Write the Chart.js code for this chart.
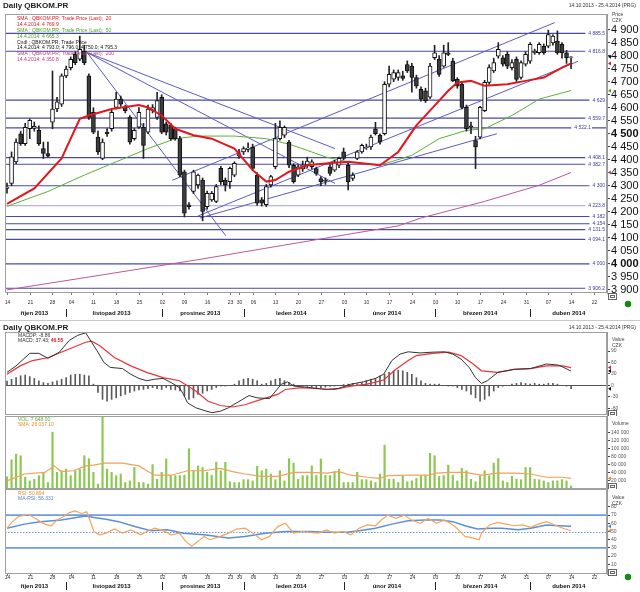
<!DOCTYPE html>
<html>
<head>
<meta charset="utf-8">
<script src="https://cdn.jsdelivr.net/npm/chart.js@4.4.1/dist/chart.umd.min.js"></script>
<style>
  body { margin: 0; background: #fff; }
  #wrap { position: relative; width: 640px; height: 592px; overflow: hidden; background: #fff; }
  canvas { position: absolute; left: 0; }
</style>
</head>
<body>
<div id="wrap">
  <canvas id="priceChart" width="640" height="321" style="top:0"></canvas>
  <canvas id="macdChart" width="640" height="95" style="top:321px"></canvas>
  <canvas id="volChart" width="640" height="73" style="top:416px"></canvas>
  <canvas id="rsiChart" width="640" height="103" style="top:489px"></canvas>
</div>
<script>
// --- Data (x = trading day index, 0 = 14.10.2013) ---

const tickIdx = [0, 5, 10, 14, 19, 24, 29, 34, 39, 44, 49, 51, 54, 59, 64, 69, 74, 79, 84, 89, 94, 99, 104, 109, 114, 119, 124, 129];
const tickText = ['14', '21', '28', '04', '11', '18', '25', '02', '09', '16', '23', '30', '06', '13', '20', '27', '03', '10', '17', '24', '03', '10', '17', '24', '31', '07', '14', '22'];
const monthNames = ['říjen 2013', 'listopad 2013', 'prosinec 2013', 'leden 2014', 'únor 2014', 'březen 2014', 'duben 2014'];
const monthStart = [0, 13, 34, 52, 74, 94, 115, 133];

const open = [4290, 4309, 4392, 4500, 4462, 4519, 4520, 4513, 4443, 4424, 4544, 4595, 4614, 4722, 4754, 4805, 4786, 4817, 4722, 4582,
  4487, 4405, 4506, 4519, 4601, 4633, 4601, 4563, 4481, 4525, 4525, 4506, 4590, 4563, 4640, 4538, 4532, 4519, 4481, 4354,
  4227, 4278, 4303, 4322, 4220, 4246, 4240, 4367, 4322, 4316, 4341, 4415, 4430, 4440, 4449, 4341, 4246, 4227, 4303, 4373,
  4481, 4494, 4468, 4379, 4341, 4365, 4380, 4373, 4366, 4328, 4322, 4373, 4360, 4379, 4430, 4379, 4328, 4405, 4430, 4445,
  4449, 4519, 4494, 4500, 4690, 4710, 4716, 4722, 4766, 4760, 4716, 4671, 4665, 4640, 4792, 4786, 4760, 4811, 4779, 4709,
  4690, 4601, 4530, 4474, 4487, 4589, 4697, 4741, 4798, 4792, 4805, 4754, 4786, 4716, 4767, 4779, 4811, 4811, 4836, 4836,
  4849, 4855, 4843, 4811, 4793];
const high = [4310, 4430, 4480, 4510, 4540, 4557, 4545, 4530, 4468, 4468, 4741, 4640, 4730, 4760, 4795, 4815, 4875, 4840, 4730, 4600,
  4510, 4480, 4520, 4590, 4659, 4645, 4610, 4570, 4520, 4600, 4540, 4610, 4612, 4659, 4650, 4545, 4540, 4525, 4490, 4360,
  4235, 4360, 4345, 4330, 4280, 4278, 4305, 4375, 4330, 4372, 4392, 4440, 4450, 4465, 4460, 4350, 4255, 4305, 4340, 4540,
  4550, 4530, 4475, 4385, 4380, 4395, 4410, 4400, 4372, 4335, 4330, 4380, 4398, 4410, 4445, 4390, 4350, 4435, 4460, 4460,
  4495, 4544, 4500, 4700, 4760, 4745, 4745, 4740, 4780, 4770, 4725, 4680, 4675, 4770, 4840, 4800, 4840, 4850, 4790, 4715,
  4700, 4610, 4545, 4490, 4605, 4705, 4765, 4790, 4850, 4800, 4815, 4785, 4795, 4780, 4815, 4850, 4825, 4850, 4845, 4898,
  4880, 4895, 4850, 4820, 4796];
const low = [4272, 4300, 4385, 4455, 4455, 4481, 4510, 4455, 4405, 4410, 4519, 4585, 4605, 4715, 4745, 4765, 4780, 4765, 4555, 4500,
  4420, 4400, 4490, 4510, 4595, 4605, 4580, 4460, 4475, 4520, 4405, 4500, 4580, 4555, 4500, 4495, 4475, 4475, 4335, 4180,
  4210, 4270, 4290, 4165, 4210, 4240, 4235, 4305, 4280, 4290, 4335, 4405, 4420, 4430, 4360, 4225, 4222, 4220, 4295, 4365,
  4475, 4485, 4370, 4310, 4335, 4355, 4370, 4365, 4340, 4300, 4305, 4340, 4355, 4370, 4400, 4284, 4320, 4400, 4425, 4440,
  4440, 4495, 4460, 4495, 4680, 4700, 4705, 4705, 4735, 4660, 4675, 4625, 4620, 4635, 4785, 4720, 4755, 4800, 4700, 4675,
  4595, 4510, 4500, 4366, 4480, 4585, 4690, 4735, 4790, 4760, 4750, 4745, 4700, 4710, 4760, 4770, 4805, 4805, 4805, 4830,
  4840, 4805, 4790, 4770, 4750];
const close = [4295, 4411, 4468, 4462, 4525, 4551, 4528, 4462, 4424, 4414, 4595, 4623, 4722, 4748, 4786, 4773, 4824, 4773, 4563, 4506,
  4430, 4468, 4500, 4582, 4633, 4614, 4589, 4468, 4513, 4582, 4455, 4595, 4600, 4627, 4506, 4506, 4481, 4481, 4341, 4195,
  4220, 4354, 4341, 4201, 4271, 4271, 4297, 4316, 4303, 4367, 4386, 4424, 4443, 4445, 4367, 4233, 4233, 4297, 4335, 4481,
  4525, 4525, 4379, 4316, 4373, 4380, 4395, 4392, 4347, 4316, 4318, 4347, 4392, 4405, 4405, 4316, 4341, 4430, 4455, 4449,
  4487, 4500, 4468, 4690, 4728, 4735, 4735, 4712, 4741, 4716, 4684, 4633, 4627, 4760, 4811, 4728, 4811, 4805, 4703, 4684,
  4601, 4519, 4525, 4449, 4601, 4697, 4754, 4773, 4824, 4767, 4760, 4773, 4709, 4773, 4805, 4843, 4817, 4843, 4811, 4881,
  4875, 4811, 4811, 4792, 4795];

// moving averages as [day index, value]
const sma20 = [[0, 4230], [6, 4290], [12, 4405], [16, 4557], [18, 4570], [23, 4595], [29, 4610], [31, 4601], [34, 4570], [37, 4519],
  [41, 4494], [45, 4481], [50, 4443], [54, 4360], [57, 4316], [59, 4322], [62, 4354], [66, 4379], [70, 4386], [75, 4392],
  [82, 4379], [86, 4430], [90, 4532], [94, 4608], [97, 4665], [99, 4697], [102, 4703], [105, 4684], [110, 4690], [114, 4703],
  [118, 4716], [122, 4754], [124, 4770]];
const sma50 = [[0, 4221], [9, 4278], [17, 4341], [24, 4392], [31, 4443], [37, 4481], [42, 4491], [50, 4491], [57, 4481], [62, 4460],
  [66, 4436], [70, 4411], [75, 4392], [82, 4379], [89, 4417], [95, 4481], [101, 4513], [105, 4519], [111, 4570], [117, 4633], [124, 4666]];
const sma200 = [[0, 3900], [20, 3955], [42, 4016], [64, 4081], [86, 4146], [91, 4176], [105, 4240], [117, 4302], [124, 4351]];

const levels = [4885.5, 4816.8, 4629.0, 4559.7, 4522.1, 4408.1, 4382.7, 4300, 4223.8, 4182, 4154, 4131.5, 4094.1, 4000, 3906.2];
const trendLines = [
  [[17.6, 4812], [48.1, 4108]],
  [[17.6, 4812], [72.1, 4443]],
  [[17.6, 4812], [72.1, 4309]],
  [[36.3, 4321], [120.4, 4927]],
  [[42, 4184], [125.5, 4778]],
  [[42.4, 4176], [107.7, 4500]]
];
const priceTicks = [3900, 3950, 4000, 4050, 4100, 4150, 4200, 4250, 4300, 4350, 4400, 4450, 4500, 4550, 4600, 4650, 4700, 4750, 4800, 4850, 4900];

const macdLine = [[0, 34], [2, 51], [5, 84], [7, 84], [9, 71], [11.5, 87], [13.7, 118], [15.5, 131], [17.3, 138], [18.6, 113], [20, 87],
  [21.3, 60], [22.7, 47], [25.4, 44], [27.2, 29], [29, 18], [30.7, 12], [32.5, 16], [34.3, 18], [36.1, 7], [37.9, -6], [38.8, -24],
  [39.7, -46], [41.5, -59], [43.3, -66], [45.1, -72], [46.9, -68], [48.7, -59], [50.5, -46], [53.2, -27], [55, -33], [57.7, -35],
  [60.3, 3], [61.7, 9], [63, -2], [66.6, -6], [70.2, -11], [72.9, -8], [75.6, 3], [78.3, 9], [81, 18], [82.8, 29], [84.6, 65],
  [86.4, 82], [88.2, 88], [90.8, 85], [93.5, 87], [96.2, 88], [98, 82], [99.8, 69], [101.6, 47], [103, 20], [104.3, 5], [105.6, 12],
  [107.9, 34], [111.5, 42], [115.1, 44], [118.6, 56], [121.3, 53], [124, 37.43]];
const macdSignal = [[0, 29], [2.9, 51], [5.6, 65], [9.2, 73], [11.9, 87], [14.6, 100], [17.3, 113], [18.6, 116], [20.4, 104], [23.6, 73],
  [27.2, 51], [30.7, 34], [34.3, 20], [37.9, 12], [41.5, -15], [44.2, -42], [46.9, -53], [49.6, -57], [52.3, -51], [55.9, -37],
  [59.5, -24], [61.2, -11], [64.8, -6], [68.4, -9], [72, -11], [75.6, -2], [79.2, 3], [82.8, 14], [85.5, 42], [88.2, 65], [90, 78],
  [93.5, 84], [97.1, 87], [99.8, 78], [102.5, 56], [104.3, 38], [107.9, 34], [111.5, 42], [115.1, 44], [118.6, 51], [122.2, 51], [124, 46.55]];
const macdHist = [11, 16, 20, 25, 27, 23, 18, 12, 7,
  5, 9, 12, 16, 20, 27, 29, 29, 27, 25,
  3,
  -19, -37, -42, -37, -33, -28, -24, -19,
  -15, -12, -11, -9, -6, -9, -11, -6, -11, -12,
  -15, -28, -37, -33, -24, -21, -15, -11, -6, -2, -2,
  0, 3, 12, 16, 18, 16, 12,
  3, 5, 12, 16, 18, 12,
  7, 3, 0, -2, -3,
  -4, -6, -6, -5, -3, -2, 0, 2, 3, 5, 4,
  7, 12, 16, 18, 25,
  29, 34, 38, 40, 38, 34, 29, 20, 12,
  5, 3, 3, 3, 0, -2, -2, -6,
  -11, -15, -24, -33, -42, -37, -28,
  -15, -6, -2, 0, 3,
  5, 7, 5, 3, 5, 3, 3, 5, 5, 3, 0, -2, -8.86];
const macdTicks = [-60, -30, 0, 30, 60, 90];

// volume in thousands
const volumeK = [30, 72, 86, 82, 29, 20, 24, 33, 41, 16, 140, 41, 45, 49, 33, 45, 49, 82, 75, 41,
  12, 178, 49, 41, 33, 37, 16, 20, 53, 16, 16, 12, 60, 24, 41, 74, 34, 33, 33, 34,
  99, 45, 57, 53, 41, 34, 66, 45, 66, 18, 16, 16, 23, 23, 20, 56, 45, 49, 37, 23,
  45, 20, 75, 64, 24, 33, 33, 57, 34, 74, 34, 33, 43, 49, 16, 16, 16, 41, 23, 23,
  20, 16, 37, 108, 24, 24, 16, 33, 18, 20, 26, 33, 33, 88, 82, 31, 33, 59, 34, 20,
  51, 45, 24, 18, 33, 45, 33, 64, 75, 20, 16, 31, 24, 23, 53, 53, 24, 23, 20, 16,
  20, 20, 23, 20, 7.648];
const volumeSmaK = [[0, 20], [3.8, 37], [8.3, 41], [10.4, 57], [11.9, 43], [14.6, 45], [17.3, 57], [19.1, 59], [21.3, 64], [25.4, 64],
  [29, 57], [30.7, 45], [32.5, 34], [36.1, 34], [39.7, 45], [43.3, 45], [46.9, 51], [49.6, 43], [52.3, 37], [55.9, 31], [59.5, 31],
  [63, 41], [66.6, 41], [70.2, 39], [72.9, 43], [75.6, 34], [79.2, 29], [81.9, 26], [83.7, 33], [88.2, 34], [92.6, 34], [94.4, 39],
  [97.1, 41], [100.7, 41], [104.3, 34], [107.9, 39], [111.5, 39], [115.1, 37], [118.6, 29], [122.2, 29], [124, 26.04]];
const volumeTicksK = [20, 40, 60, 80, 100, 120, 140];

const rsi = [[0, 54], [1.2, 62], [2.5, 68], [4.7, 71], [6.5, 65], [8.3, 59], [9.7, 57], [11, 64], [12.4, 68], [13.7, 73], [15, 75],
  [16.4, 72], [17.5, 74], [18.2, 64], [19.1, 50], [20.4, 46], [21.8, 48], [23.6, 53], [25.4, 48], [27.2, 52], [29.4, 46], [30.7, 50],
  [32.5, 54], [34.3, 51], [36.1, 46], [37.9, 48], [39.3, 38], [40.6, 32], [42, 38], [43.3, 44], [44.6, 40], [46.9, 44], [48.7, 48],
  [50.5, 53], [52.3, 54], [54.1, 48], [55.9, 40], [57.7, 44], [59.5, 56], [61.2, 60], [63, 48], [64.8, 50], [66.6, 49], [68.4, 48],
  [70.2, 52], [72, 48], [73.8, 50], [75.6, 46], [77.4, 54], [79.2, 58], [81, 57], [82.3, 64], [83.7, 70], [85.5, 66], [87.3, 70],
  [89, 64], [90.8, 60], [92.6, 66], [94.4, 60], [96.2, 64], [98, 58], [98.9, 54], [100.7, 44], [102.5, 42], [103.8, 40], [104.3, 48],
  [106.1, 58], [107.9, 61], [109.7, 59], [111.5, 57], [113.3, 58], [115.1, 55], [116.8, 59], [118.6, 62], [120.4, 58], [122.2, 54], [124, 50.9]];
const rsiMa = [[0, 54], [3.8, 59], [7.4, 62], [11.9, 64], [17.3, 69], [19.1, 67], [21.8, 65], [24.5, 62], [28.1, 56], [31.6, 51],
  [35.2, 52], [38.8, 48], [43.3, 46], [48.7, 42], [52.3, 44], [56.8, 48], [61.2, 50], [66.6, 50], [70.2, 49], [74.7, 49], [77.4, 51],
  [81, 54], [84.6, 59], [88.2, 63], [91.7, 64], [95.3, 64], [98, 62], [100.7, 57], [103.4, 53], [106.1, 54], [108.8, 54], [112.4, 52],
  [115.1, 54], [118.6, 58], [121.3, 57], [124, 56.3]];
const rsiTicks = [10, 20, 30, 40, 50, 60, 70, 80];
const rsiBands = [70, 30];

// --- Helpers ---

const FONT = '"Liberation Sans", Arial, sans-serif';
const X_MIN = -0.44, X_MAX = 131.9;

function formatNumber(val) {
  return val.toString().replace(/\B(?=(\d{3})+(?!\d))/g, ' ');
}

function pts(pairs) {
  return pairs.map(p => ({ x: p[0], y: p[1] }));
}

function hline(v) {
  return [{ x: X_MIN, y: v }, { x: X_MAX, y: v }];
}

function xScale() {
  return { type: 'linear', min: X_MIN, max: X_MAX, offset: false, display: false };
}

function yScale(min, max, ticks, size, fmt, boldVals) {
  return {
    position: 'right',
    min: min,
    max: max,
    afterBuildTicks: s => { s.ticks = ticks.map(v => ({ value: v })); },
    // fixed axis width, no label overflow padding so plot areas line up exactly
    afterFit: s => { s.width = 33; s.paddingTop = 0; s.paddingBottom = 0; },
    grid: { drawOnChartArea: false, drawTicks: true, tickLength: 3, color: '#444' },
    border: { display: true, color: '#9a9a9a' },
    ticks: {
      autoSkip: false,
      padding: 1,
      color: size > 8 ? '#111' : '#555',
      font: c => ({ family: FONT, size: size, weight: (boldVals && c.tick && boldVals.includes(c.tick.value)) ? 'bold' : 'normal' }),
      callback: v => fmt(v)
    }
  };
}

function baseOptions(padding, scales) {
  return {
    responsive: false,
    animation: false,
    events: [],
    layout: { padding: padding },
    plugins: { legend: { display: false }, tooltip: { enabled: false } },
    scales: scales
  };
}

function text(ctx, s, x, y, font, color, align) {
  ctx.font = font;
  ctx.fillStyle = color;
  ctx.textAlign = align || 'left';
  ctx.textBaseline = 'middle';
  ctx.fillText(s, x, y);
}

function frame(chart) {
  const { ctx, chartArea: a } = chart;
  ctx.save();
  ctx.strokeStyle = '#a0a0a0';
  ctx.lineWidth = 1;
  ctx.strokeRect(a.left + 0.5, a.top + 0.5, a.right - a.left - 1, a.bottom - a.top - 1);
  ctx.restore();
}

function marker(ctx, x, y, color) {
  ctx.fillStyle = color;
  ctx.beginPath();
  ctx.moveTo(x, y);
  ctx.lineTo(x + 3, y - 2);
  ctx.lineTo(x + 3, y + 2);
  ctx.closePath();
  ctx.fill();
}

function cornerBox(ctx, x, y) {
  ctx.fillStyle = '#fff';
  ctx.fillRect(x, y, 9, 7);
  ctx.strokeStyle = '#666';
  ctx.lineWidth = 1;
  ctx.strokeRect(x + 0.5, y + 0.5, 8, 6);
  ctx.strokeRect(x + 2.5, y + 2.5, 4, 2);
}

function dateAxis(chart, dayY, monthY) {
  const { ctx, chartArea: a, scales: { x } } = chart;
  ctx.save();
  ctx.strokeStyle = '#777';
  ctx.lineWidth = 1;
  tickIdx.forEach((i, k) => {
    const px = Math.round(x.getPixelForValue(i)) + 0.5;
    ctx.beginPath();
    ctx.moveTo(px, a.bottom);
    ctx.lineTo(px, a.bottom + 2);
    ctx.stroke();
    text(ctx, tickText[k], px, dayY, '5px ' + FONT, '#333', 'center');
  });
  monthNames.forEach((m, k) => {
    const c = (monthStart[k] + monthStart[k + 1] - 1) / 2;
    text(ctx, m, x.getPixelForValue(c), monthY, 'bold 6px ' + FONT, '#111', 'center');
    if (k > 0) {
      const px = Math.round(x.getPixelForValue(monthStart[k])) + 0.5;
      ctx.strokeStyle = '#222';
      ctx.beginPath();
      ctx.moveTo(px, monthY - 4);
      ctx.lineTo(px, monthY + 4);
      ctx.stroke();
    }
  });
  ctx.fillStyle = '#0f8a16';
  ctx.beginPath();
  ctx.arc(628, monthY - 9, 3.2, 0, Math.PI * 2);
  ctx.fill();
  ctx.restore();
}

function axisHeader(ctx, a, lines, y0) {
  lines.forEach((s, k) => text(ctx, s, a.right + 5, y0 + k * 6, '5px ' + FONT, '#444'));
}

// --- Price panel ---

const bodyColor = c => close[c.dataIndex] >= open[c.dataIndex] ? '#ffffff' : '#3c3c3c';

const priceDecor = {
  id: 'priceDecor',
  afterDatasetsDraw(chart) {
    const { ctx, chartArea: a, scales: { y } } = chart;
    ctx.save();
    ctx.font = '5px ' + FONT;
    levels.forEach(v => {
      const py = y.getPixelForValue(v);
      const s = Number.isInteger(v) ? formatNumber(v) : formatNumber(v.toFixed(1));
      const xr = v === 4522.1 ? a.right - 16 : a.right - 2;
      const w = ctx.measureText(s).width;
      ctx.fillStyle = '#fff';
      ctx.fillRect(xr - w - 3, py - 2.5, w + 4, 5);
      text(ctx, s, xr, py, '5px ' + FONT, '#3a3aa0', 'right');
    });
    ctx.restore();
  },
  afterDraw(chart) {
    const { ctx, chartArea: a, scales: { y } } = chart;
    ctx.save();
    frame(chart);
    text(ctx, 'Daily QBKOM.PR', 3, 6, 'bold 8px ' + FONT, '#222');
    text(ctx, '14.10.2013 - 25.4.2014 (PRG)', 636, 6, '5px ' + FONT, '#333', 'right');
    axisHeader(ctx, a, ['Price', 'CZK'], 15);
    const legend = [
      ['SMA ; QBKOM.PR; Trade Price (Last);  20', '#e3161b'],
      ['14.4.2014: 4 769.9', '#e3161b'],
      ['SMA ; QBKOM.PR; Trade Price (Last);  50', '#4aa620'],
      ['14.4.2014: 4 665.3', '#4aa620'],
      ['Cndl ; QBKOM.PR; Trade Price', '#111'],
      ['14.4.2014: 4 793.0; 4 796.0; 4 750.0; 4 795.3', '#111'],
      ['SMA ; QBKOM.PR; Trade Price (Last);  200', '#b0407f'],
      ['14.4.2014: 4 350.8', '#b0407f']
    ];
    legend.forEach((l, k) => text(ctx, l[0], 17, 19 + k * 5.8, '5px ' + FONT, l[1]));
    marker(ctx, a.right + 1, y.getPixelForValue(4795.3), '#111');
    marker(ctx, a.right + 1, y.getPixelForValue(4769.9), '#e3161b');
    marker(ctx, a.right + 1, y.getPixelForValue(4665.3), '#4aa620');
    marker(ctx, a.right + 1, y.getPixelForValue(4350.8), '#b0407f');
    cornerBox(ctx, a.right + 1, a.bottom);
    dateAxis(chart, 303, 313);
    ctx.strokeStyle = '#c8c8c8';
    ctx.beginPath();
    ctx.moveTo(0, 320.5);
    ctx.lineTo(640, 320.5);
    ctx.stroke();
    ctx.restore();
  }
};

new Chart(document.getElementById('priceChart'), {
  type: 'bar',
  data: {
    datasets: [
      { type: 'line', data: pts(sma20), borderColor: '#e3161b', borderWidth: 2, pointRadius: 0, order: 0 },
      {
        data: open.map((o, i) => ({ x: i, y: [o, close[i]] })),
        backgroundColor: bodyColor, borderColor: '#111', borderWidth: 1, borderSkipped: false,
        barThickness: 4, grouped: false, order: 1
      },
      {
        data: low.map((l, i) => ({ x: i, y: [l, high[i]] })),
        backgroundColor: '#222', borderWidth: 0, barThickness: 1, grouped: false, order: 2
      },
      { type: 'line', data: pts(sma50), borderColor: '#5cb030', borderWidth: 1, pointRadius: 0, order: 3 },
      { type: 'line', data: pts(sma200), borderColor: '#c0569a', borderWidth: 1, pointRadius: 0, order: 3 },
      ...trendLines.map(l => ({ type: 'line', data: pts(l), borderColor: '#5a5ac4', borderWidth: 1, pointRadius: 0, order: 4 })),
      ...levels.map(v => ({
        type: 'line', data: hline(v), borderColor: v === 4223.8 ? '#b4b4dc' : '#4848a8',
        borderWidth: 1.2, pointRadius: 0, order: 5
      }))
    ]
  },
  options: baseOptions({ left: 5, top: 14, right: 0, bottom: 28 }, {
    x: xScale(),
    y: yScale(3888, 4960, priceTicks, 11, v => formatNumber(v), [4500, 4000])
  }),
  plugins: [priceDecor]
});

// --- MACD panel ---

const macdDecor = {
  id: 'macdDecor',
  beforeDatasetsDraw(chart) {
    const { ctx, chartArea: a, scales: { y } } = chart;
    const py = Math.round(y.getPixelForValue(0)) + 0.5;
    ctx.save();
    ctx.strokeStyle = '#555';
    ctx.lineWidth = 1;
    ctx.beginPath();
    ctx.moveTo(a.left, py);
    ctx.lineTo(a.right, py);
    ctx.stroke();
    ctx.restore();
  },
  afterDraw(chart) {
    const { ctx, chartArea: a, scales: { y } } = chart;
    ctx.save();
    frame(chart);
    text(ctx, 'Daily QBKOM.PR', 3, 6.5, 'bold 8px ' + FONT, '#222');
    text(ctx, '14.10.2013 - 25.4.2014 (PRG)', 636, 6.5, '5px ' + FONT, '#333', 'right');
    text(ctx, 'MACDP: -8.86', 18, 15, '5px ' + FONT, '#333');
    text(ctx, 'MACD; 37.43; ', 18, 20, '5px ' + FONT, '#333');
    ctx.font = '5px ' + FONT;
    const w = ctx.measureText('MACD; 37.43; ').width;
    text(ctx, '46.55', 18 + w, 20, 'bold 5px ' + FONT, '#e3161b');
    axisHeader(ctx, a, ['Value', 'CZK'], 19);
    marker(ctx, a.right + 1, y.getPixelForValue(46.55), '#e3161b');
    marker(ctx, a.right + 1, y.getPixelForValue(37.43), '#111');
    marker(ctx, a.right + 1, y.getPixelForValue(-8.86), '#111');
    cornerBox(ctx, a.right + 1, a.bottom - 5);
    ctx.restore();
  }
};

new Chart(document.getElementById('macdChart'), {
  type: 'bar',
  data: {
    datasets: [
      { type: 'line', data: pts(macdLine), borderColor: '#333', borderWidth: 1, pointRadius: 0, order: 0 },
      { type: 'line', data: pts(macdSignal), borderColor: '#e8343a', borderWidth: 1.2, pointRadius: 0, order: 1 },
      {
        data: macdHist.map((v, i) => ({ x: i, y: v })),
        backgroundColor: '#5a5a5a', borderWidth: 0, barThickness: 1, grouped: false, order: 2
      }
    ]
  },
  options: baseOptions({ left: 5, top: 11, right: 0, bottom: 1 }, {
    x: xScale(),
    y: yScale(-78, 140, macdTicks, 5, v => formatNumber(v))
  }),
  plugins: [macdDecor]
});

// --- Volume panel ---

const volDecor = {
  id: 'volDecor',
  afterDraw(chart) {
    const { ctx, chartArea: a, scales: { y } } = chart;
    ctx.save();
    frame(chart);
    text(ctx, 'VOL: 7 648.00', 18, 3.5, '5px ' + FONT, '#5cb030');
    text(ctx, 'SMA: 26 037.10', 18, 8.5, '5px ' + FONT, '#f08a30');
    axisHeader(ctx, a, ['Volume'], 8);
    marker(ctx, a.right + 1, y.getPixelForValue(26.04), '#f08a30');
    cornerBox(ctx, a.right + 1, a.bottom - 6);
    ctx.restore();
  }
};

new Chart(document.getElementById('volChart'), {
  type: 'bar',
  data: {
    datasets: [
      { type: 'line', data: pts(volumeSmaK), borderColor: '#f2a05a', borderWidth: 1.2, pointRadius: 0, order: 0 },
      {
        data: volumeK.map((v, i) => ({ x: i, y: v })),
        backgroundColor: '#8cc751', borderWidth: 0, barThickness: 1.5, grouped: false, order: 1
      }
    ]
  },
  options: baseOptions({ left: 5, top: 0, right: 0, bottom: 0 }, {
    x: xScale(),
    y: yScale(0, 180, volumeTicksK, 5, v => formatNumber(v * 1000))
  }),
  plugins: [volDecor]
});

// --- RSI panel ---

const rsiDecor = {
  id: 'rsiDecor',
  beforeDatasetsDraw(chart) {
    const { ctx, chartArea: a, scales: { y } } = chart;
    const py = Math.round(y.getPixelForValue(50)) + 0.5;
    ctx.save();
    ctx.strokeStyle = '#6f9be0';
    ctx.lineWidth = 1;
    ctx.setLineDash([1.5, 1.5]);
    ctx.beginPath();
    ctx.moveTo(a.left, py);
    ctx.lineTo(a.right, py);
    ctx.stroke();
    ctx.restore();
  },
  afterDraw(chart) {
    const { ctx, chartArea: a, scales: { y } } = chart;
    ctx.save();
    frame(chart);
    text(ctx, 'RSI: 50.894', 18, 4.5, '5px ' + FONT, '#f08a30');
    text(ctx, 'MA-RSI: 56.331', 18, 9.5, '5px ' + FONT, '#4a7fd0');
    axisHeader(ctx, a, ['Value', 'CZK'], 9);
    marker(ctx, a.right + 1, y.getPixelForValue(56.3), '#4a7fd0');
    marker(ctx, a.right + 1, y.getPixelForValue(50.9), '#f08a30');
    cornerBox(ctx, a.right + 1, a.bottom - 5);
    dateAxis(chart, 89, 97);
    ctx.restore();
  }
};

new Chart(document.getElementById('rsiChart'), {
  type: 'line',
  data: {
    datasets: [
      { data: pts(rsi), borderColor: '#f5a55a', borderWidth: 1.2, pointRadius: 0, order: 0 },
      { data: pts(rsiMa), borderColor: '#5b8fdc', borderWidth: 1.5, pointRadius: 0, order: 1 },
      ...rsiBands.map(v => ({ data: hline(v), borderColor: '#6f9be0', borderWidth: 1.6, pointRadius: 0, order: 2 }))
    ]
  },
  options: baseOptions({ left: 5, top: 0, right: 0, bottom: 18 }, {
    x: xScale(),
    y: yScale(-1.8, 101.8, rsiTicks, 5, v => formatNumber(v))
  }),
  plugins: [rsiDecor]
});
</script>
</body>
</html>
